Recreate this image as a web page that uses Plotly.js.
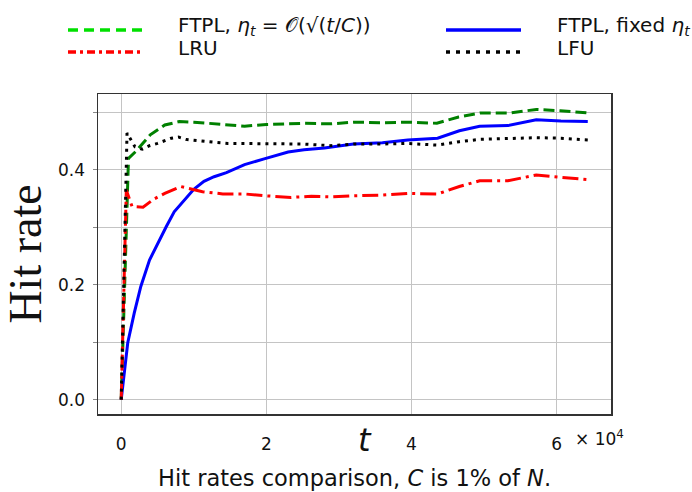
<!DOCTYPE html>
<html>
<head>
<meta charset="utf-8">
<script src="https://cdn.plot.ly/plotly-3.0.1.min.js"></script>
<style>html,body{margin:0;padding:0;background:#fff;}#chart{width:692px;height:492px;}</style>
</head>
<body>
<div id="chart"></div>
<script>
// t in units of requests (axis shows ×10^4)
const tGreen = [0, 1000, 2000, 4000, 6000, 8000, 10000, 12000, 14000, 17000, 20000, 25000, 29000, 32000, 36000, 40000, 43500, 46500, 49500, 53500, 57200, 60500, 64300];
const ftplAdaptive = [0, 0.42, 0.432, 0.461, 0.478, 0.484, 0.483, 0.481, 0.478, 0.476, 0.479, 0.481, 0.48, 0.483, 0.482, 0.483, 0.481, 0.492, 0.499, 0.499, 0.505, 0.503, 0.499];

const tBlue = [0, 900, 1800, 2700, 3900, 5000, 6200, 7300, 8700, 10000, 11400, 12800, 14500, 17000, 19700, 23000, 25200, 28000, 32000, 36000, 39500, 43600, 46600, 49400, 53300, 57200, 60600, 64300];
const ftplFixed = [0, 0.099, 0.151, 0.197, 0.243, 0.272, 0.301, 0.327, 0.348, 0.366, 0.38, 0.388, 0.395, 0.409, 0.419, 0.431, 0.435, 0.438, 0.445, 0.447, 0.452, 0.455, 0.468, 0.476, 0.477, 0.487, 0.485, 0.484];

const tRed = [0, 700, 1500, 3000, 4500, 6000, 8200, 9500, 11200, 14000, 17000, 19700, 23400, 26200, 28900, 32100, 36000, 39500, 43600, 46600, 49400, 53300, 57200, 60600, 64300];
const lru = [0, 0.365, 0.336, 0.335, 0.349, 0.359, 0.371, 0.367, 0.362, 0.358, 0.358, 0.355, 0.352, 0.354, 0.353, 0.355, 0.356, 0.359, 0.358, 0.371, 0.381, 0.381, 0.391, 0.387, 0.383];

const tBlack = [0, 800, 1900, 2900, 3900, 5000, 6900, 7900, 8900, 10800, 12800, 14700, 20000, 25000, 28900, 32100, 36000, 39500, 43600, 46600, 49400, 53300, 57200, 60600, 64300];
const lfu = [0, 0.464, 0.44, 0.436, 0.442, 0.446, 0.455, 0.457, 0.453, 0.45, 0.448, 0.446, 0.445, 0.445, 0.442, 0.445, 0.445, 0.446, 0.443, 0.449, 0.453, 0.454, 0.456, 0.455, 0.452];

const names = ["FTPL, <i>η<sub>t</sub></i> = 𝒪(√(<i>t</i>/<i>C</i>))", "FTPL, fixed <i>η<sub>t</sub></i>", "LRU", "LFU"];
const xTickVals = [0, 20000, 40000, 60000];
const xTickText = ["0", "2", "4", "6"];
const yTickVals = [0, 0.2, 0.4];
const yTickText = ["0.0", "0.2", "0.4"];

const lw = 3;
const traces = [
  {x: tGreen, y: ftplAdaptive, name: names[0], mode: 'lines', line: {color: '#008000', width: lw, dash: '11px,5px'}},
  {x: tBlue, y: ftplFixed, name: names[1], mode: 'lines', line: {color: '#0000ff', width: lw}},
  {x: tRed, y: lru, name: names[2], mode: 'lines', line: {color: '#ff0000', width: lw, dash: '16px,5px,3px,5px'}},
  {x: tBlack, y: lfu, name: names[3], mode: 'lines', line: {color: '#000000', width: lw, dash: '3px,5px'}}
];

// manual legend (the reference legend uses longer samples and a lighter green)
const W = 692, H = 492, ml = 98, mr = 81, mt = 94, mb = 78;
const pw = W - ml - mr, ph = H - mt - mb;
const px = v => (v - ml) / pw;
const py = v => (H - mb - v) / ph;
const legendItems = [
  {name: names[0], color: '#00e000', dash: '10px,6px', x0: 68, x1: 142, tx: 176, ly: 30, ty: 26},
  {name: names[1], color: '#0000ff', dash: 'solid', x0: 446, x1: 521, tx: 555, ly: 30, ty: 26},
  {name: names[2], color: '#ff0000', dash: '8px,4px,3px,4px', x0: 68, x1: 142, tx: 176, ly: 52, ty: 48},
  {name: names[3], color: '#000000', dash: '4px,6px', x0: 446, x1: 521, tx: 555, ly: 52, ty: 48}
];
const shapes = legendItems.map(it => ({
  type: 'line', xref: 'paper', yref: 'paper', x0: px(it.x0), x1: px(it.x1), y0: py(it.ly), y1: py(it.ly),
  line: {color: it.color, width: 3.5, dash: it.dash}
}));
const legendText = legendItems.map(it => ({
  text: it.name, xref: 'paper', yref: 'paper', x: px(it.tx), y: py(it.ty), xanchor: 'left', yanchor: 'middle',
  showarrow: false, font: {family: 'DejaVu Sans, sans-serif', size: 20, color: '#111'}
}));

const layout = {
  width: W, height: H,
  margin: {l: ml, r: mr, t: mt, b: mb},
  paper_bgcolor: '#fff', plot_bgcolor: '#fff',
  font: {family: 'DejaVu Sans, sans-serif', color: '#111', size: 17},
  showlegend: false,
  xaxis: {
    range: [-3200, 67500],
    tickmode: 'array', tickvals: xTickVals, ticktext: xTickText,
    showgrid: true, gridcolor: '#c4c4c4', gridwidth: 1.2,
    zeroline: false,
    showline: true, linecolor: '#333', linewidth: 1.5, mirror: true,
    ticks: '', ticklabelstandoff: 14,
    tickfont: {family: 'DejaVu Sans, sans-serif', size: 17, color: '#111'}
  },
  yaxis: {
    range: [-0.025, 0.532],
    tickmode: 'array', tickvals: yTickVals, ticktext: yTickText,
    showgrid: true, gridcolor: '#c4c4c4', gridwidth: 1.2,
    minor: {tickmode: 'linear', tick0: 0, dtick: 0.1, showgrid: true, gridcolor: '#c4c4c4', gridwidth: 1.2, ticks: 'outside', ticklen: 4, tickcolor: '#888'},
    zeroline: false,
    showline: true, linecolor: '#333', linewidth: 1.5, mirror: true,
    ticks: 'outside', ticklen: 4, tickcolor: '#888', ticklabelstandoff: 4,
    tickfont: {family: 'DejaVu Sans, sans-serif', size: 17, color: '#111'},
    title: {text: 'Hit rate', font: {family: 'Liberation Serif, DejaVu Serif, serif', size: 46, color: '#111'}, standoff: 6}
  },
  shapes: shapes,
  annotations: legendText.concat([
    {text: '<i>t</i>', xref: 'paper', yref: 'paper', x: px(365), y: py(440), xanchor: 'center', yanchor: 'middle', showarrow: false,
     font: {family: 'DejaVu Sans, sans-serif', size: 32, color: '#111'}},
    {text: '× 10<sup>4</sup>', xref: 'paper', yref: 'paper', x: px(573), y: py(438), xanchor: 'left', yanchor: 'middle', showarrow: false,
     font: {family: 'DejaVu Sans, sans-serif', size: 17, color: '#111'}},
    {text: 'Hit rates comparison, <i>C</i> is 1% of <i>N</i>.', xref: 'paper', yref: 'paper', x: px(354), y: py(478), xanchor: 'center', yanchor: 'middle', showarrow: false,
     font: {family: 'DejaVu Sans, sans-serif', size: 22.5, color: '#111'}}
  ])
};

Plotly.newPlot('chart', traces, layout, {displayModeBar: false, staticPlot: true});
</script>
</body>
</html>
